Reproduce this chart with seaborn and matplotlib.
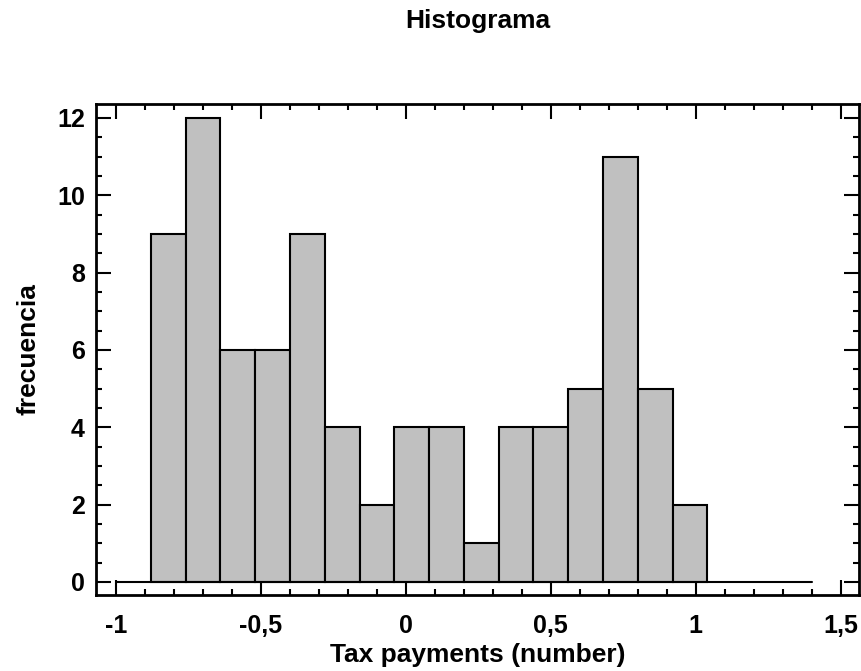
import matplotlib
matplotlib.use("Agg")
import matplotlib.pyplot as plt
import seaborn as sns
import numpy as np
import pandas as pd
from matplotlib.ticker import MultipleLocator, FuncFormatter

# Data
bin_start = -0.88
bin_width = 0.12
counts = [9, 12, 6, 6, 9, 4, 2, 4, 4, 1, 4, 4, 5, 11, 5, 2]
title = "Histograma"
xlabel = "Tax payments (number)"
ylabel = "frecuencia"
x_ticks = [-1, -0.5, 0, 0.5, 1, 1.5]
y_ticks = [0, 2, 4, 6, 8, 10, 12]

edges = bin_start + bin_width * np.arange(len(counts) + 1)
centers = (edges[:-1] + edges[1:]) / 2
df = pd.DataFrame({"x": centers, "w": counts})

sns.set_style("ticks")
plt.rcParams['font.family'] = ['Liberation Sans', 'DejaVu Sans']
plt.rcParams['font.weight'] = 'bold'
for k in ['text.color', 'axes.labelcolor', 'xtick.color', 'ytick.color', 'axes.edgecolor']:
    plt.rcParams[k] = 'black'

fig = plt.figure(figsize=(8.61, 6.71), dpi=100)
ax = fig.add_axes([96/861, 76/671, (859-96)/861, (595-104)/671])

sns.histplot(data=df, x="x", weights="w", bins=list(edges), ax=ax,
             color="#c0c0c0", edgecolor="black", linewidth=1.5, alpha=1.0)

ax.plot([-1.0, 1.4], [0, 0], color="black", lw=1.5, zorder=3)

ax.set_xlim(-1.069, 1.563)
ax.set_ylim(-0.34, 12.36)
ax.set_xticks(x_ticks)
ax.set_yticks(y_ticks)
ax.xaxis.set_minor_locator(MultipleLocator(0.1))
ax.yaxis.set_minor_locator(MultipleLocator(0.5))
fmt = FuncFormatter(lambda v, p: ("%g" % v).replace(".", ","))
ax.xaxis.set_major_formatter(fmt)

ax.tick_params(which='both', direction='in', top=True, right=True, width=1.5,
               labelsize=18, colors='black')
ax.tick_params(which='major', length=11)
ax.tick_params(which='minor', length=4)
ax.tick_params(axis='x', which='major', pad=14)
ax.tick_params(axis='y', which='major', pad=8)
for lab in ax.get_xticklabels() + ax.get_yticklabels():
    lab.set_fontweight('bold')
for s in ax.spines.values():
    s.set_linewidth(2)
    s.set_color("black")

ax.set_xlabel(xlabel, fontsize=19, fontweight='bold', labelpad=3, color='black')
ax.set_ylabel(ylabel, fontsize=19, fontweight='bold', labelpad=12, color='black')
fig.text((96 + 859) / 2 / 861, 1 - 21/671, title, ha='center', va='center',
         fontsize=19, fontweight='bold', color='black')

fig.savefig("out.png", dpi=100)
